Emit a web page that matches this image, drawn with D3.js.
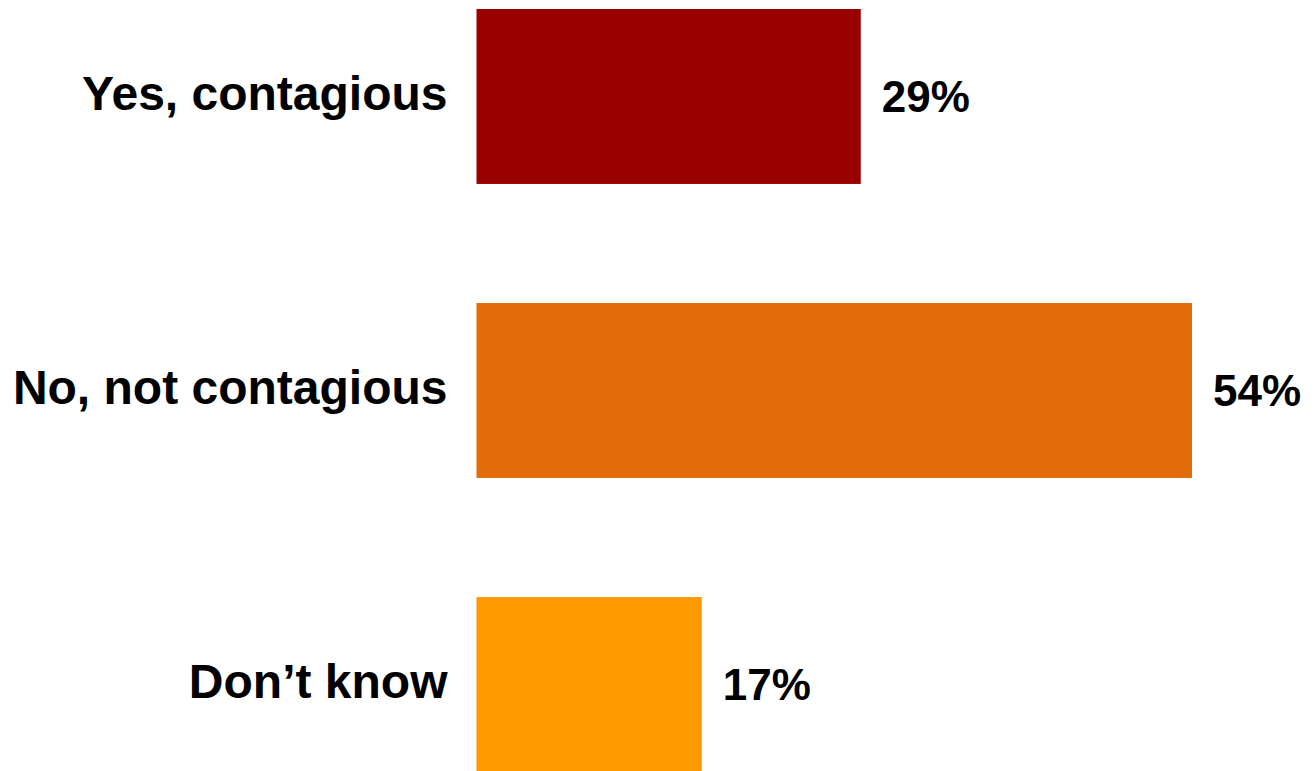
<!DOCTYPE html>
<html>
<head>
<meta charset="utf-8">
<script src="https://cdn.jsdelivr.net/npm/d3@7"></script>
<style>
  html, body { margin: 0; padding: 0; background: #ffffff; }
  svg { display: block; }
  text { font-family: "Liberation Sans", Arial, sans-serif; font-weight: bold; fill: #000; }
</style>
</head>
<body>
<svg id="chart" width="1316" height="771"></svg>
<script>
const categories = ["Yes, contagious", "No, not contagious", "Don\u2019t know"];
const values = [29, 54, 17];
const valueLabels = ["29%", "54%", "17%"];
const colors = ["#990000", "#E36C0A", "#FF9900"];

const svg = d3.select("#chart");

const x = d3.scaleLinear().domain([0, 100]).range([476.5, 476.5 + 1325]);
const y = d3.scaleBand().domain(categories).range([9, 772]).paddingInner(0.405).paddingOuter(0);

const data = categories.map((c, i) => ({ c, v: values[i], label: valueLabels[i], color: colors[i] }));

svg.selectAll("rect.bar")
  .data(data)
  .join("rect")
  .attr("class", "bar")
  .attr("x", x(0))
  .attr("y", d => y(d.c))
  .attr("width", d => x(d.v) - x(0))
  .attr("height", y.bandwidth())
  .attr("fill", d => d.color);

svg.selectAll("text.cat")
  .data(data)
  .join("text")
  .attr("class", "cat")
  .attr("x", x(0) - 29)
  .attr("y", d => y(d.c) + y.bandwidth() / 2 - 3.5)
  .attr("dy", "0.36em")
  .attr("text-anchor", "end")
  .style("font-size", "48px")
  .text(d => d.c);

svg.selectAll("text.val")
  .data(data)
  .join("text")
  .attr("class", "val")
  .attr("x", d => x(d.v) + 21)
  .attr("y", d => y(d.c) + y.bandwidth() / 2 - 0.5)
  .attr("dy", "0.36em")
  .attr("text-anchor", "start")
  .style("font-size", "44px")
  .text(d => d.label);
</script>
</body>
</html>
